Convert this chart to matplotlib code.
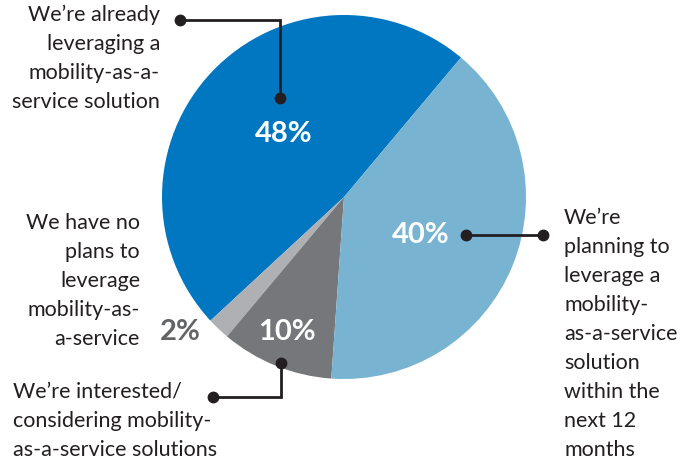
import matplotlib
matplotlib.use("Agg")
import matplotlib.pyplot as plt

# ── data ─────────────────────────────────────────────────────────────────────
shares  = [48, 2, 10, 40]
colors  = ["#0077c0", "#afb0b3", "#76777b", "#78b4d2"]
pct_txt = ["48%", "2%", "10%", "40%"]
labels  = [
    "We\u2019re already\nleveraging a\nmobility-as-a-\nservice solution",
    "We have no\nplans to\nleverage\nmobility-as-\na-service",
    "We\u2019re interested/\nconsidering mobility-\nas-a-service solutions",
    "We\u2019re\nplanning to\nleverage a\nmobility-\nas-a-service\nsolution\nwithin the\nnext 12\nmonths",
]

# ── figure (axes in pixel units, y measured from top) ───────────────────────
W, H = 693, 461
DARK = "#231f20"
plt.rcParams["font.family"] = ["Lato", "DejaVu Sans"]

fig = plt.figure(figsize=(W / 100, H / 100), dpi=100)
ax = fig.add_axes([0, 0, 1, 1])


def Y(y):
    return H - y


CX, CY, R = 344, 197, 182
ax.pie(shares, colors=colors, startangle=50, counterclock=True,
       center=(CX, Y(CY)), radius=R, frame=True,
       wedgeprops=dict(linewidth=0))
ax.set_xlim(0, W)
ax.set_ylim(0, H)
ax.set_aspect("equal")
ax.axis("off")

# percentage labels
pct_pos   = [(284, 134), (180, 332), (287, 332), (421, 235)]
pct_color = ["white", "#636466", "white", "white"]
for t, (x, y), c in zip(pct_txt, pct_pos, pct_color):
    ax.text(x, Y(y), t, ha="center", va="center", fontsize=21,
            fontweight="bold", color=c)

# category labels (y of the last baseline)
lab_kw = dict(fontsize=15.5, color=DARK, linespacing=1.56, va="baseline")
ax.text(160, Y(108), labels[0], ha="right", **lab_kw)
ax.text(140, Y(345), labels[1], ha="right", **lab_kw)
ax.text(13, Y(455.5), labels[2], ha="left", **lab_kw)
ax.text(564, Y(455.5), labels[3], ha="left", **lab_kw)

# leader lines with dots
leaders = [
    [(180, 20), (280, 20), (280, 98)],
    [(466, 235), (543, 235)],
    [(281, 363), (281, 397), (213, 397)],
]
for pts in leaders:
    xs = [p[0] for p in pts]
    ys = [Y(p[1]) for p in pts]
    ax.plot(xs, ys, color=DARK, lw=2, solid_joinstyle="miter")
    ax.plot([xs[0], xs[-1]], [ys[0], ys[-1]], "o", color=DARK, ms=7.5)

fig.savefig("out.png", dpi=100, facecolor="white")
